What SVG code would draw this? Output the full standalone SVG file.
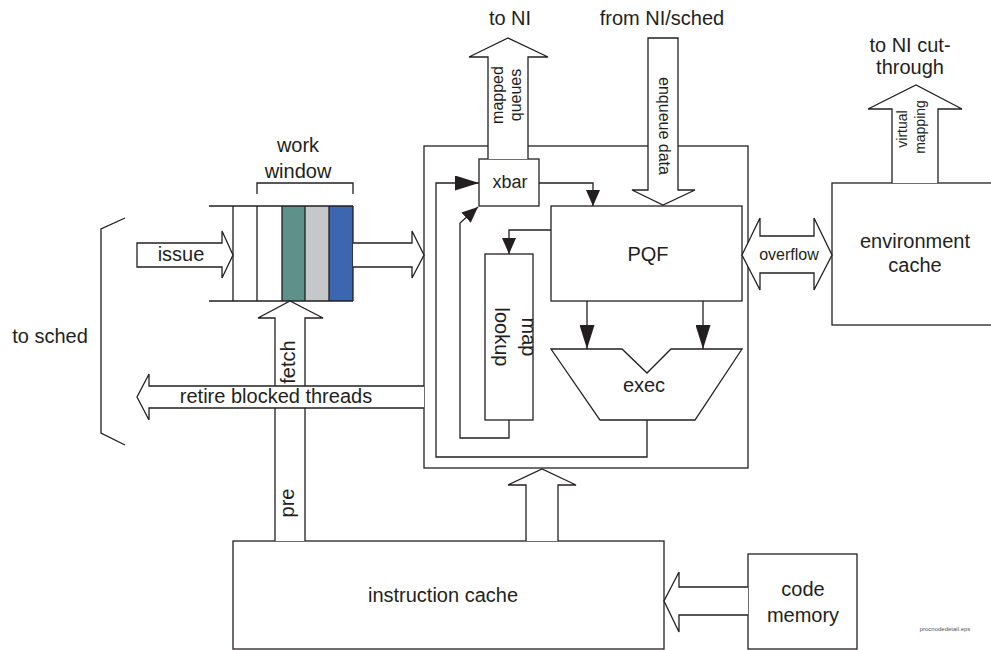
<svg xmlns="http://www.w3.org/2000/svg" width="991" height="650" viewBox="0 0 991 650">
<style>
  .s{fill:none;stroke:#231f20;stroke-width:1.3}
  .w{fill:#fff;stroke:#231f20;stroke-width:1.3;stroke-linejoin:miter}
  text{font-family:"Liberation Sans",Arial,sans-serif;fill:#231f20}
  .t20{font-size:20px}
  .t16{font-size:16px}
  .t14{font-size:14px}
  .m{text-anchor:middle}
</style>
<defs>
  <marker id="ah" viewBox="0 0 16 14" refX="16" refY="7" markerWidth="16" markerHeight="14" markerUnits="userSpaceOnUse" orient="auto">
    <path d="M0,0 L16,7 L0,14 Z" fill="#231f20"/>
  </marker>
  <marker id="ahl" viewBox="0 0 24 15" refX="24" refY="7.5" markerWidth="24" markerHeight="15" markerUnits="userSpaceOnUse" orient="auto">
    <path d="M0,0 L24,7.5 L0,15 Z" fill="#231f20"/>
  </marker>
</defs>
<rect width="991" height="650" fill="#fff"/>

<!-- processor node outer box -->
<g id="proc">
  <rect x="424" y="146" width="324" height="322" class="s"/>
</g>

<!-- work window -->
<g id="workwindow">
  <rect x="282" y="206" width="23" height="95" fill="#5e918a"/>
  <rect x="305" y="206" width="24" height="95" fill="#c6c7c9"/>
  <rect x="329" y="206" width="24" height="95" fill="#3d66b1"/>
  <path class="s" d="M209,206 H353 M209,301 H353 M233,206 V301 M257,206 V301 M282,206 V301 M305,206 V301 M329,206 V301 M353,206 V301"/>
  <path class="s" d="M257,194 V183 H353 V194"/>
  <text class="t20 m" x="298" y="152">work</text>
  <text class="t20 m" x="298" y="178">window</text>
</g>

<!-- xbar -->
<g id="xbar">
  <rect x="479" y="159" width="60" height="47" class="w"/>
  <text class="m" style="font-size:18px" x="510" y="188">xbar</text>
</g>

<!-- PQF -->
<g id="pqf">
  <rect x="551" y="206" width="191" height="95" class="w"/>
  <text class="t20 m" x="648" y="261">PQF</text>
</g>

<!-- map lookup -->
<g id="maplookup">
  <rect x="485" y="254" width="48" height="166" class="w"/>
  <text class="t20 m" transform="rotate(90 522 337)" x="522" y="337">map</text>
  <text class="t20 m" transform="rotate(90 495 337)" x="495" y="337">lookup</text>
</g>

<!-- exec -->
<g id="exec">
  <path class="w" d="M551,349 H622 L647,373 L671,349 H742 L695,420 H600 Z"/>
  <text class="t20 m" x="644" y="392">exec</text>
</g>

<!-- environment cache -->
<g id="envcache">
  <rect x="832" y="183" width="170" height="142" class="w"/>
  <text class="t20 m" x="915" y="248">environment</text>
  <text class="t20 m" x="915" y="272">cache</text>
</g>

<!-- instruction cache -->
<g id="icache">
  <rect x="233" y="541" width="431" height="108" class="w"/>
  <text class="t20 m" x="443" y="602">instruction cache</text>
</g>

<!-- code memory -->
<g id="codemem">
  <rect x="748" y="554" width="109" height="95" class="w"/>
  <text class="t20 m" x="803" y="596">code</text>
  <text class="t20 m" x="803" y="622">memory</text>
</g>

<!-- connectors -->
<g id="connectors">
  <!-- thin arrows inside processor -->
  <path class="s" d="M539,183 H593 V206" marker-end="url(#ah)"/>
  <path class="s" d="M551,230 H509 V254" marker-end="url(#ah)"/>
  <path class="s" d="M587,301 V349" marker-end="url(#ahl)"/>
  <path class="s" d="M703,301 V349" marker-end="url(#ahl)"/>
  <path class="s" d="M647,420 V457 H436 V183 H479" marker-end="url(#ahl)"/>
  <path class="s" d="M509,420 V438 H460 V223 L478,207" marker-end="url(#ah)"/>

  <!-- to NI : mapped queues -->
  <path class="w" d="M488,159 V57 H469 L508,38 L548,57 H528 V159"/>
  <text class="t16 m" transform="rotate(-90 503 95)" x="503" y="95">mapped</text>
  <text class="t16 m" transform="rotate(-90 521 95)" x="521" y="95">queues</text>
  <text class="t20 m" x="510" y="25">to NI</text>

  <!-- from NI/sched : enqueue data -->
  <path class="w" d="M648,38 H678 V190 H695 L663,205 L632,190 H648 Z"/>
  <text class="t16 m" transform="rotate(90 659 126)" x="659" y="126">enqueue data</text>
  <text class="t20 m" x="662" y="25">from NI/sched</text>

  <!-- overflow double arrow -->
  <path class="w" d="M742,255 L760,218 V236 H814 V218 L832,255 L814,290 V273 H760 V290 Z"/>
  <text class="t16 m" x="789" y="260">overflow</text>

  <!-- virtual mapping to NI cut-through -->
  <path class="w" d="M892,183 V109 H868 L916,85 L962,109 H938 V183"/>
  <text class="t14 m" transform="rotate(-90 907 129)" x="907" y="129">virtual</text>
  <text class="t14 m" transform="rotate(-90 925 127)" x="925" y="127">mapping</text>
  <text class="t20 m" x="910" y="52">to NI cut-</text>
  <text class="t20 m" x="910" y="74">through</text>

  <!-- issue arrow -->
  <path class="w" d="M137,243 H222 V231 L233,255 L222,278 V267 H137 Z"/>
  <text class="t20 m" x="181" y="261">issue</text>

  <!-- work window to processor -->
  <path class="w" d="M353,243 H412 V231 L424,255 L412,278 V267 H353"/>

  <!-- fetch / pre arrow -->
  <path class="w" d="M275,541 V318 H258 L290,301 L323,318 H305 V541"/>
  <text class="t20 m" transform="rotate(-90 295 362)" x="295" y="362">fetch</text>
  <text class="t20 m" transform="rotate(-90 294 503)" x="294" y="503">pre</text>

  <!-- retire blocked threads -->
  <path class="w" d="M424,386 H149 V374 L137,397 L149,420 V408 H424"/>
  <text class="t20 m" x="276" y="403">retire blocked threads</text>

  <!-- icache to processor -->
  <path class="w" d="M526,541 V485 H508 L542,469 L576,485 H558 V541"/>

  <!-- code memory to icache -->
  <path class="w" d="M748,587 H679 V572 L664,601 L679,632 V615 H748"/>

  <!-- to sched bracket -->
  <path class="s" d="M125,218 L101,229 V433 L125,445"/>
  <text class="t20 m" x="50" y="343">to sched</text>
</g>

<text x="945" y="631" class="m" style="font-size:6px;fill:#555">procnodedetail.eps</text>
</svg>
